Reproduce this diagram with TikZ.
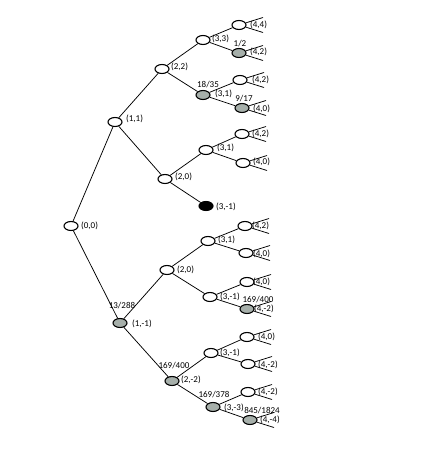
\documentclass[tikz,border=0pt]{standalone}
\usepackage{fontspec}
\setmainfont{Carlito}
\usetikzlibrary{shapes.geometric}
\definecolor{nodegray}{HTML}{A6AFAA}
\tikzset{
  st/.style={ellipse, draw=black, line width=1.1pt, minimum width=14pt, minimum height=9pt, inner sep=0pt, fill=white},
  wn/.style={st},
  gn/.style={st, fill=nodegray},
  bn/.style={st, fill=black},
  edge/.style={draw=black, line width=0.75pt},
  lab/.style={anchor=west, inner sep=0pt, font=\fontsize{9}{10}\selectfont},
  frac/.style={anchor=center, inner sep=0pt, font=\fontsize{9}{10}\selectfont}
}
\begin{document}
\begin{tikzpicture}[x=1pt,y=-1pt]
\useasboundingbox (0,0) rectangle (433,452);
% inner nodes
\node[wn] (n00) at (71,226) {};
\node[wn] (n11) at (115,122) {};
\node[gn] (n1m1) at (120,323) {};
\node[wn] (n22) at (162,69) {};
\node[wn] (n20a) at (165,179) {};
\node[wn] (n20b) at (167,270) {};
\node[gn] (n2m2) at (172,381) {};
\node[wn] (n33) at (203,40) {};
\node[gn] (n31a) at (203,95) {};
\node[wn] (n31b) at (206,150) {};
\node[bn] (n3m1a) at (206,206) {};
\node[wn] (n31c) at (208,241) {};
\node[wn] (n3m1b) at (210,297) {};
\node[wn] (n3m1c) at (211,353) {};
\node[gn] (n3m3) at (213,407) {};
% leaves
\node[wn] (l1) at (239,25) {};
\node[gn] (l2) at (239,53) {};
\node[wn] (l3) at (240,80) {};
\node[gn] (l4) at (242,108) {};
\node[wn] (l5) at (242,134) {};
\node[wn] (l6) at (243,163) {};
\node[wn] (l7) at (245,226) {};
\node[wn] (l8) at (246,253) {};
\node[wn] (l9) at (247,282) {};
\node[gn] (l10) at (247,309) {};
\node[wn] (l11) at (247,337) {};
\node[wn] (l12) at (248,364) {};
\node[wn] (l13) at (248,392) {};
\node[gn] (l14) at (250,420) {};
% edges
\foreach \a/\b in {n00/n11, n00/n1m1, n11/n22, n11/n20a, n22/n33, n22/n31a,
  n33/l1, n33/l2, n31a/l3, n31a/l4, n20a/n31b, n20a/n3m1a, n31b/l5, n31b/l6,
  n1m1/n20b, n1m1/n2m2, n20b/n31c, n20b/n3m1b, n31c/l7, n31c/l8, n3m1b/l9, n3m1b/l10,
  n2m2/n3m1c, n2m2/n3m3, n3m1c/l11, n3m1c/l12, n3m3/l13, n3m3/l14}
  \draw[edge] (\a) -- (\b);
% stubs at leaves
\foreach \l in {l1,l2,l3,l4,l5,l6,l7,l8,l9,l10,l11,l12,l13,l14}{
  \draw[edge] (\l) -- ++(24,-7.5);
  \draw[edge] (\l) -- ++(24,7.5);
}
% state labels
\node[lab] (t00) at (81,226) {(0,0)};
\node[lab] (t11) at (126,119) {(1,1)};
\node[lab] (t1m1) at (132,324) {(1,-1)};
\node[lab] (t22) at (171,67) {(2,2)};
\node[lab] (t20a) at (175,177) {(2,0)};
\node[lab] (t20b) at (177,270) {(2,0)};
\node[lab] (t2m2) at (181,380) {(2,-2)};
\node[lab] (t33) at (212,39) {(3,3)};
\node[lab] (t31a) at (215,94) {(3,1)};
\node[lab] (t31b) at (217,148) {(3,1)};
\node[lab] (t3m1a) at (216,207) {(3,-1)};
\node[lab] (t31c) at (218,240) {(3,1)};
\node[lab] (t3m1b) at (220,297) {(3,-1)};
\node[lab] (t3m1c) at (220,353) {(3,-1)};
\node[lab] (t3m3) at (224,408) {(3,-3)};
\node[lab] (s1) at (250,25) {(4,4)};
\node[lab] (s2) at (250,52) {(4,2)};
\node[lab] (s3) at (252,80) {(4,2)};
\node[lab] (s4) at (253,109) {(4,0)};
\node[lab] (s5) at (252,134) {(4,2)};
\node[lab] (s6) at (253,162) {(4,0)};
\node[lab] (s7) at (252,226) {(4,2)};
\node[lab] (s8) at (253,254) {(4,0)};
\node[lab] (s9) at (253,282) {(4,0)};
\node[lab] (s10) at (254,309) {(4,-2)};
\node[lab] (s11) at (258,337) {(4,0)};
\node[lab] (s12) at (258,365) {(4,-2)};
\node[lab] (s13) at (258,392) {(4,-2)};
\node[lab] (s14) at (260,420) {(4,-4)};
% probability labels
\node[frac] (f1) at (122,306) {13/288};
\node[frac] (f2) at (174,366) {169/400};
\node[frac] (f3) at (208,85) {18/35};
\node[frac] (f4) at (214,395) {169/378};
\node[frac] (f5) at (240,44) {1/2};
\node[frac] (f6) at (244,99) {9/17};
\node[frac] (f7) at (258,300) {169/400};
\node[frac] (f8) at (262,411) {845/1824};
\end{tikzpicture}
\end{document}
